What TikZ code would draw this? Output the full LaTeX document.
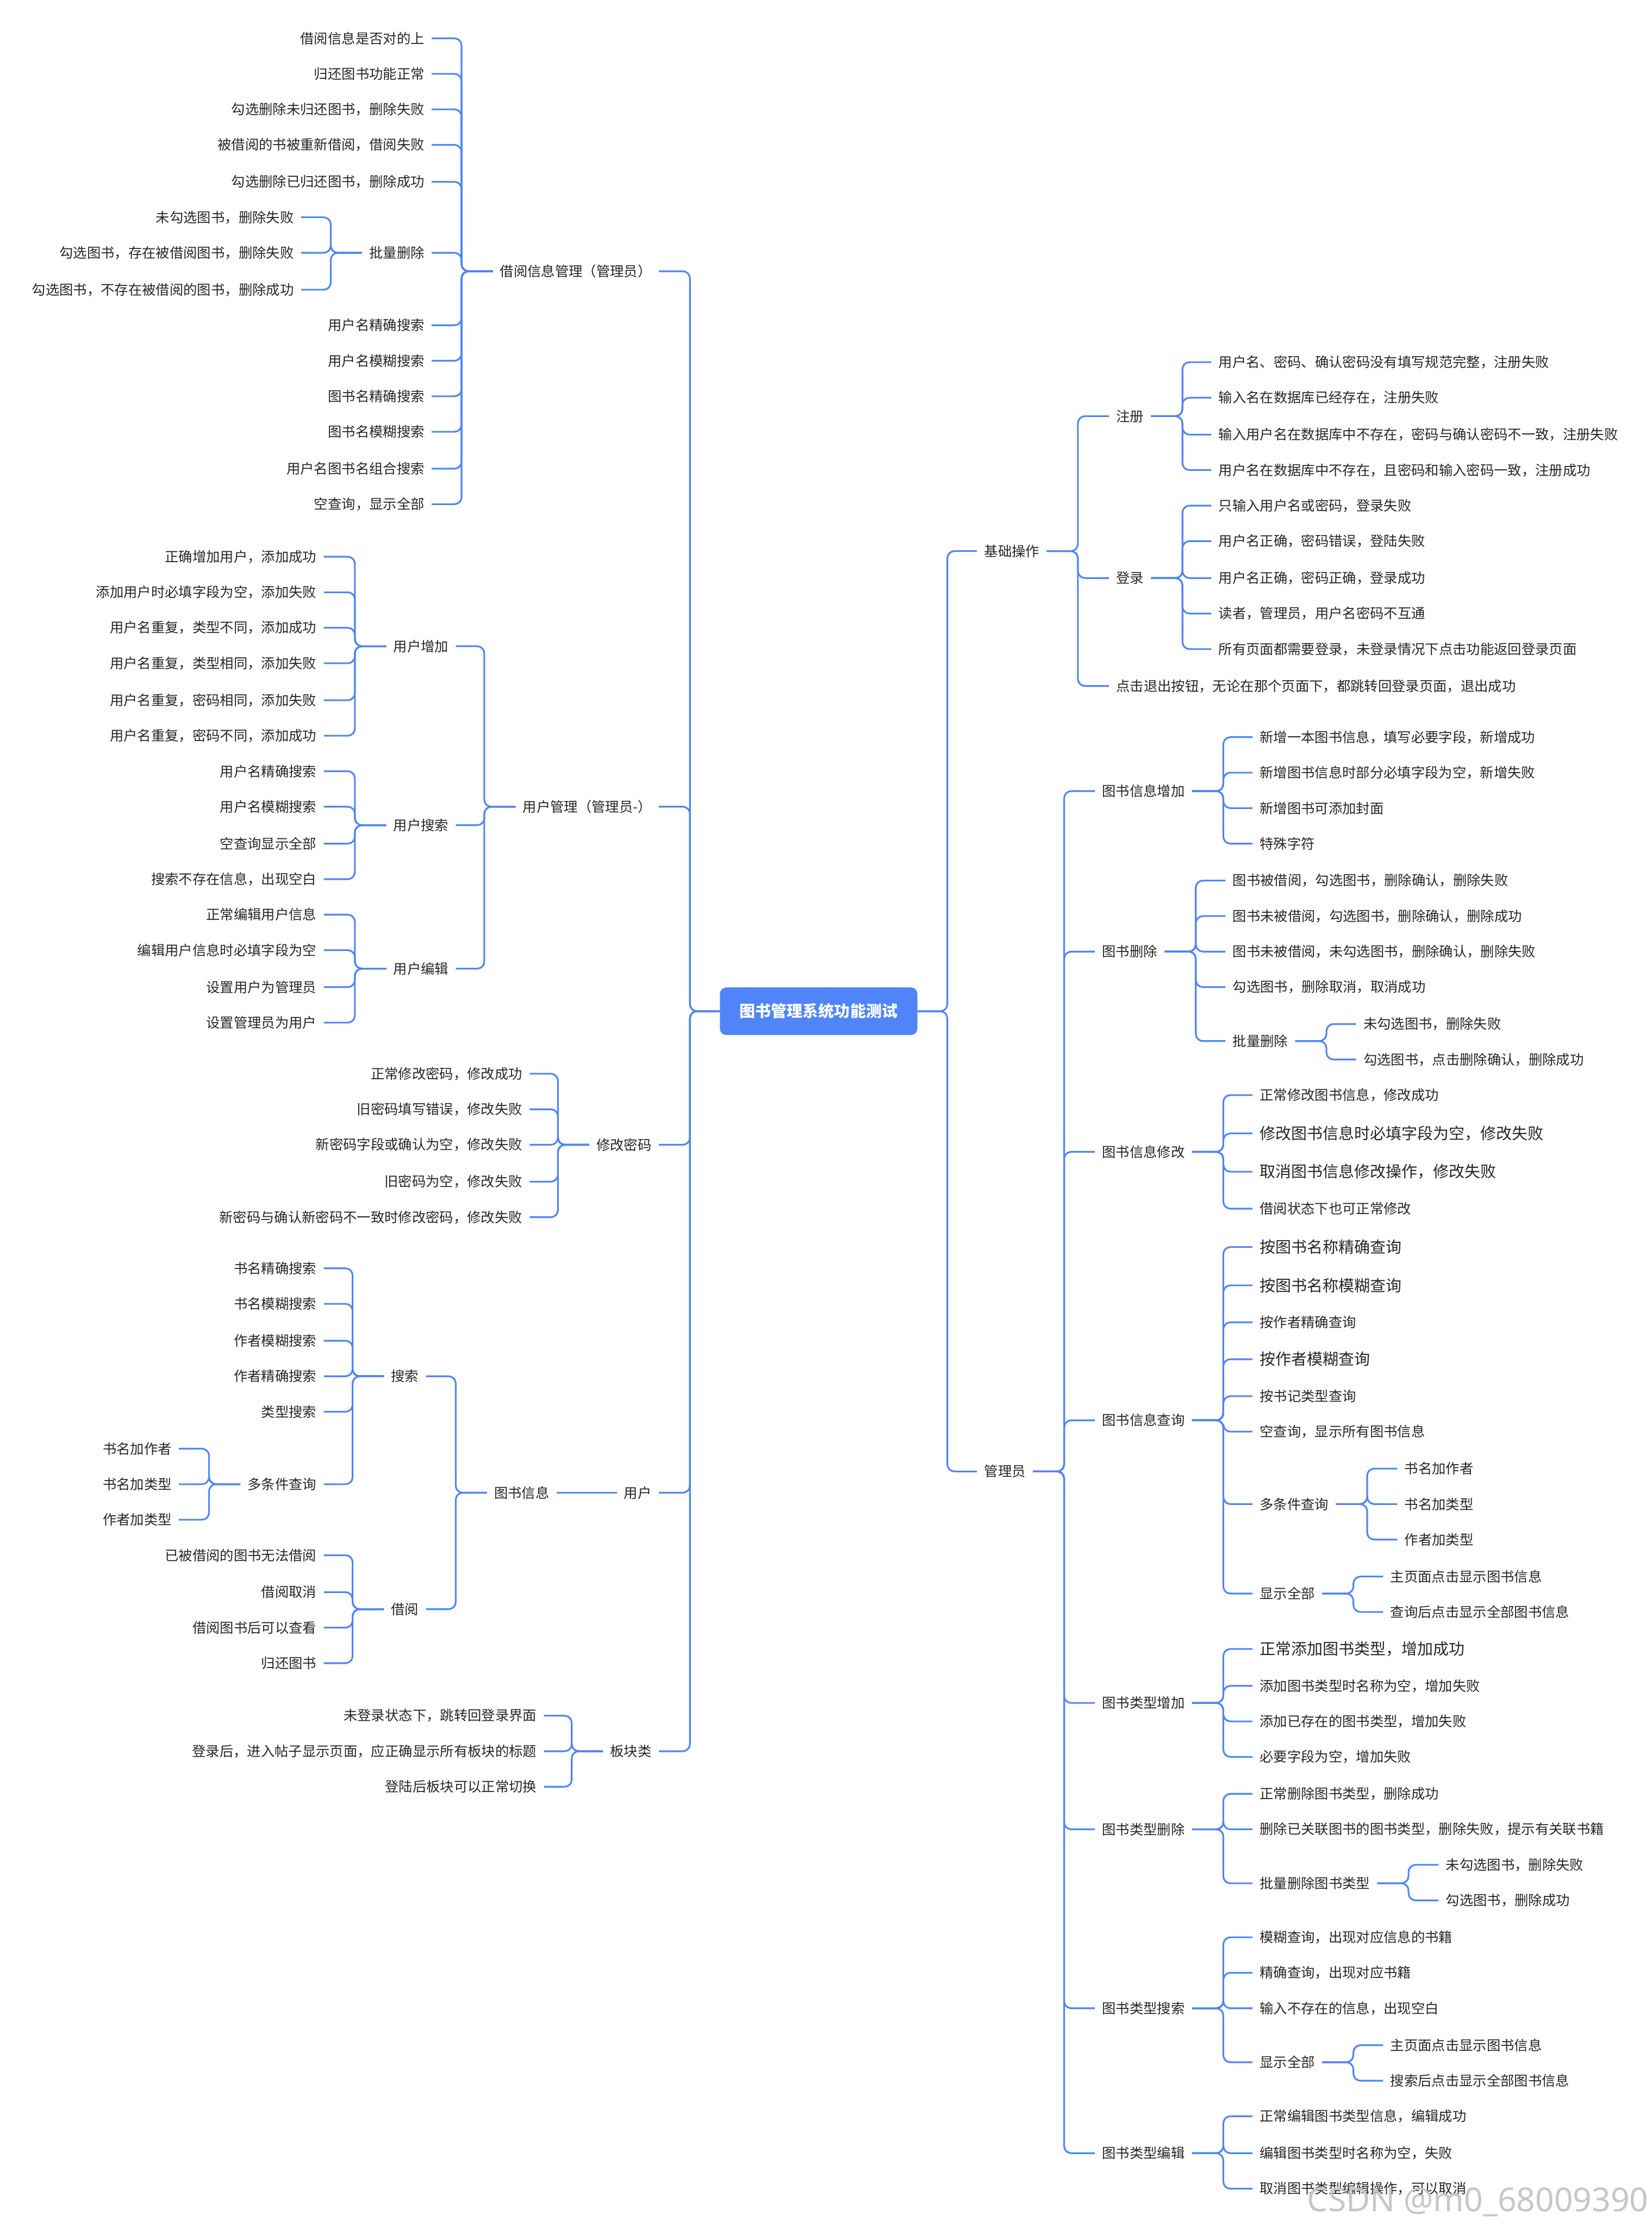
\documentclass[tikz,border=0pt]{standalone}
\usepackage{fontspec}
\setmainfont{Noto Sans CJK SC}
\newfontfamily\markfont{Noto Sans}
\usepackage{tikz}
\definecolor{MapBlue}{RGB}{80,133,250}
\definecolor{TopicText}{RGB}{38,38,38}
\newcommand{\bigtxt}{\fontsize{15.8pt}{18pt}\selectfont}
\tikzset{
  topic/.style={
    text=TopicText,
    inner xsep=2.5mm,
    inner ysep=1mm,
    font=\fontsize{13.8pt}{16pt}\selectfont
  },
  rtopic/.style={topic,anchor=west},
  ltopic/.style={topic,anchor=east},
  rootbox/.style={
    fill=MapBlue,
    text=white,
    rounded corners=2.2mm,
    minimum width=69.5mm,
    minimum height=16.75mm,
    font=\fontsize{15.8pt}{18pt}\selectfont\bfseries
  },
  link/.style={draw=MapBlue,line width=1.7pt,rounded corners=2.5mm},
  watermark/.style={text=black!22,inner sep=0pt,font=\markfont\fontsize{33pt}{36pt}\selectfont}
}

\begin{document}
\begin{tikzpicture}[x=0.5mm,y=-0.5mm]
  \useasboundingbox (0,0) rectangle (1163,1568);

  \node[rootbox] (root) at (576.5,712) {图书管理系统功能测试};

  % right side
  \node[rtopic] (jc) at (688,388) {基础操作};
  \node[rtopic] (gly) at (688,1036) {管理员};
  \foreach \nm in {jc,gly} \draw[link] (root.east) -- ++(21,0) |- (\nm.west);

  \node[rtopic] (zc) at (781,293) {注册};
  \node[rtopic] (dl) at (781,407) {登录};
  \node[rtopic] (tc) at (781,483) {点击退出按钮，无论在那个页面下，都跳转回登录页面，退出成功};
  \foreach \nm in {zc,dl,tc} \draw[link] (jc.east) -- ++(22,0) |- (\nm.west);
  \foreach \yy/\txt [count=\idx] in {255/用户名、密码、确认密码没有填写规范完整，注册失败, 280/输入名在数据库已经存在，注册失败, 306/输入用户名在数据库中不存在，密码与确认密码不一致，注册失败, 331/用户名在数据库中不存在，且密码和输入密码一致，注册成功}{
    \node[rtopic] (zc\idx) at (853,\yy) {\txt};
    \draw[link] (zc.east) -- ++(22,0) |- (zc\idx.west);
  }
  \foreach \yy/\txt [count=\idx] in {356/只输入用户名或密码，登录失败, 381/用户名正确，密码错误，登陆失败, 407/用户名正确，密码正确，登录成功, 432/读者，管理员，用户名密码不互通, 457/所有页面都需要登录，未登录情况下点击功能返回登录页面}{
    \node[rtopic] (dl\idx) at (853,\yy) {\txt};
    \draw[link] (dl.east) -- ++(22,0) |- (dl\idx.west);
  }

  \node[rtopic] (tszj) at (771,557) {图书信息增加};
  \node[rtopic] (tssc) at (771,670) {图书删除};
  \node[rtopic] (tsxg) at (771,811) {图书信息修改};
  \node[rtopic] (tscx) at (771,1000) {图书信息查询};
  \node[rtopic] (lxzj) at (771,1199) {图书类型增加};
  \node[rtopic] (lxsc) at (771,1288) {图书类型删除};
  \node[rtopic] (lxss) at (771,1414) {图书类型搜索};
  \node[rtopic] (lxbj) at (771,1516) {图书类型编辑};
  \foreach \nm in {tszj,tssc,tsxg,tscx,lxzj,lxsc,lxss,lxbj} \draw[link] (gly.east) -- ++(22,0) |- (\nm.west);

  \foreach \yy/\txt [count=\idx] in {519/新增一本图书信息，填写必要字段，新增成功, 544/新增图书信息时部分必填字段为空，新增失败, 569/新增图书可添加封面, 594/特殊字符}{
    \node[rtopic] (tszj\idx) at (882,\yy) {\txt};
    \draw[link] (tszj.east) -- ++(22,0) |- (tszj\idx.west);
  }

  \foreach \yy/\txt [count=\idx] in {620/图书被借阅，勾选图书，删除确认，删除失败, 645/图书未被借阅，勾选图书，删除确认，删除成功, 670/图书未被借阅，未勾选图书，删除确认，删除失败, 695/勾选图书，删除取消，取消成功}{
    \node[rtopic] (tssc\idx) at (863,\yy) {\txt};
    \draw[link] (tssc.east) -- ++(22,0) |- (tssc\idx.west);
  }
  \node[rtopic] (scpl) at (863,733) {批量删除};
  \draw[link] (tssc.east) -- ++(22,0) |- (scpl.west);
  \foreach \yy/\txt [count=\idx] in {721/未勾选图书，删除失败, 746/勾选图书，点击删除确认，删除成功}{
    \node[rtopic] (scpl\idx) at (955,\yy) {\txt};
    \draw[link] (scpl.east) -- ++(22,0) |- (scpl\idx.west);
  }

  \foreach \yy/\txt [count=\idx] in {771/正常修改图书信息，修改成功, 798/{\bigtxt 修改图书信息时必填字段为空，修改失败}, 825/{\bigtxt 取消图书信息修改操作，修改失败}, 851/借阅状态下也可正常修改}{
    \node[rtopic] (tsxg\idx) at (882,\yy) {\txt};
    \draw[link] (tsxg.east) -- ++(22,0) |- (tsxg\idx.west);
  }

  \foreach \yy/\txt [count=\idx] in {878/{\bigtxt 按图书名称精确查询}, 905/{\bigtxt 按图书名称模糊查询}, 931/按作者精确查询, 957/{\bigtxt 按作者模糊查询}, 983/按书记类型查询, 1008/空查询，显示所有图书信息}{
    \node[rtopic] (tscx\idx) at (882,\yy) {\txt};
    \draw[link] (tscx.east) -- ++(22,0) |- (tscx\idx.west);
  }
  \node[rtopic] (cxdt) at (882,1059) {多条件查询};
  \node[rtopic] (cxqb) at (882,1122) {显示全部};
  \foreach \nm in {cxdt,cxqb} \draw[link] (tscx.east) -- ++(22,0) |- (\nm.west);
  \foreach \yy/\txt [count=\idx] in {1034/书名加作者, 1059/书名加类型, 1084/作者加类型}{
    \node[rtopic] (cxdt\idx) at (984,\yy) {\txt};
    \draw[link] (cxdt.east) -- ++(22,0) |- (cxdt\idx.west);
  }
  \foreach \yy/\txt [count=\idx] in {1110/主页面点击显示图书信息, 1135/查询后点击显示全部图书信息}{
    \node[rtopic] (cxqb\idx) at (974,\yy) {\txt};
    \draw[link] (cxqb.east) -- ++(22,0) |- (cxqb\idx.west);
  }

  \foreach \yy/\txt [count=\idx] in {1161/{\bigtxt 正常添加图书类型，增加成功}, 1187/添加图书类型时名称为空，增加失败, 1212/添加已存在的图书类型，增加失败, 1237/必要字段为空，增加失败}{
    \node[rtopic] (lxzj\idx) at (882,\yy) {\txt};
    \draw[link] (lxzj.east) -- ++(22,0) |- (lxzj\idx.west);
  }

  \foreach \yy/\txt [count=\idx] in {1263/正常删除图书类型，删除成功, 1288/删除已关联图书的图书类型，删除失败，提示有关联书籍}{
    \node[rtopic] (lxsc\idx) at (882,\yy) {\txt};
    \draw[link] (lxsc.east) -- ++(22,0) |- (lxsc\idx.west);
  }
  \node[rtopic] (lxpl) at (882,1326) {批量删除图书类型};
  \draw[link] (lxsc.east) -- ++(22,0) |- (lxpl.west);
  \foreach \yy/\txt [count=\idx] in {1313/未勾选图书，删除失败, 1338/勾选图书，删除成功}{
    \node[rtopic] (lxpl\idx) at (1013,\yy) {\txt};
    \draw[link] (lxpl.east) -- ++(22,0) |- (lxpl\idx.west);
  }

  \foreach \yy/\txt [count=\idx] in {1364/模糊查询，出现对应信息的书籍, 1389/精确查询，出现对应书籍, 1414/输入不存在的信息，出现空白}{
    \node[rtopic] (lxss\idx) at (882,\yy) {\txt};
    \draw[link] (lxss.east) -- ++(22,0) |- (lxss\idx.west);
  }
  \node[rtopic] (ssqb) at (882,1452) {显示全部};
  \draw[link] (lxss.east) -- ++(22,0) |- (ssqb.west);
  \foreach \yy/\txt [count=\idx] in {1440/主页面点击显示图书信息, 1465/搜索后点击显示全部图书信息}{
    \node[rtopic] (ssqb\idx) at (974,\yy) {\txt};
    \draw[link] (ssqb.east) -- ++(22,0) |- (ssqb\idx.west);
  }

  \foreach \yy/\txt [count=\idx] in {1490/正常编辑图书类型信息，编辑成功, 1516/编辑图书类型时名称为空，失败, 1541/取消图书类型编辑操作，可以取消}{
    \node[rtopic] (lxbj\idx) at (882,\yy) {\txt};
    \draw[link] (lxbj.east) -- ++(22,0) |- (lxbj\idx.west);
  }

  % left side
  \node[ltopic] (jy) at (464,191) {借阅信息管理（管理员）};
  \node[ltopic] (yhgl) at (464,568) {用户管理（管理员-）};
  \node[ltopic] (xgmm) at (464,806) {修改密码};
  \node[ltopic] (yh) at (464,1051) {用户};
  \node[ltopic] (bkl) at (464,1233) {板块类};
  \foreach \nm in {jy,yhgl,xgmm,yh,bkl} \draw[link] (root.west) -- ++(-21,0) |- (\nm.east);

  \foreach \yy/\txt [count=\idx] in {27/借阅信息是否对的上, 52/归还图书功能正常, 77/勾选删除未归还图书，删除失败, 102/被借阅的书被重新借阅，借阅失败, 128/勾选删除已归还图书，删除成功, 229/用户名精确搜索, 254/用户名模糊搜索, 279/图书名精确搜索, 304/图书名模糊搜索, 330/用户名图书名组合搜索, 355/空查询，显示全部}{
    \node[ltopic] (jy\idx) at (304,\yy) {\txt};
    \draw[link] (jy.west) -- ++(-22,0) |- (jy\idx.east);
  }
  \node[ltopic] (jypl) at (304,178) {批量删除};
  \draw[link] (jy.west) -- ++(-22,0) |- (jypl.east);
  \foreach \yy/\txt [count=\idx] in {153/未勾选图书，删除失败, 178/勾选图书，存在被借阅图书，删除失败, 204/勾选图书，不存在被借阅的图书，删除成功}{
    \node[ltopic] (jypl\idx) at (212,\yy) {\txt};
    \draw[link] (jypl.west) -- ++(-22,0) |- (jypl\idx.east);
  }

  \node[ltopic] (yhzj) at (321,455) {用户增加};
  \node[ltopic] (yhss) at (321,581) {用户搜索};
  \node[ltopic] (yhbj) at (321,682) {用户编辑};
  \foreach \nm in {yhzj,yhss,yhbj} \draw[link] (yhgl.west) -- ++(-22,0) |- (\nm.east);
  \foreach \yy/\txt [count=\idx] in {392/正确增加用户，添加成功, 417/添加用户时必填字段为空，添加失败, 442/用户名重复，类型不同，添加成功, 467/用户名重复，类型相同，添加失败, 493/用户名重复，密码相同，添加失败, 518/用户名重复，密码不同，添加成功}{
    \node[ltopic] (yhzj\idx) at (228,\yy) {\txt};
    \draw[link] (yhzj.west) -- ++(-22,0) |- (yhzj\idx.east);
  }
  \foreach \yy/\txt [count=\idx] in {543/用户名精确搜索, 568/用户名模糊搜索, 594/空查询显示全部, 619/搜索不存在信息，出现空白}{
    \node[ltopic] (yhss\idx) at (228,\yy) {\txt};
    \draw[link] (yhss.west) -- ++(-22,0) |- (yhss\idx.east);
  }
  \foreach \yy/\txt [count=\idx] in {644/正常编辑用户信息, 669/编辑用户信息时必填字段为空, 695/设置用户为管理员, 720/设置管理员为用户}{
    \node[ltopic] (yhbj\idx) at (228,\yy) {\txt};
    \draw[link] (yhbj.west) -- ++(-22,0) |- (yhbj\idx.east);
  }

  \foreach \yy/\txt [count=\idx] in {756/正常修改密码，修改成功, 781/旧密码填写错误，修改失败, 806/新密码字段或确认为空，修改失败, 832/旧密码为空，修改失败, 857/新密码与确认新密码不一致时修改密码，修改失败}{
    \node[ltopic] (xgmm\idx) at (373,\yy) {\txt};
    \draw[link] (xgmm.west) -- ++(-22,0) |- (xgmm\idx.east);
  }

  \node[ltopic] (tsxx) at (392,1051) {图书信息};
  \draw[link] (yh.west) -- (tsxx.east);
  \node[ltopic] (ss) at (300,969) {搜索};
  \node[ltopic] (jieyue) at (300,1133) {借阅};
  \foreach \nm in {ss,jieyue} \draw[link] (tsxx.west) -- ++(-22,0) |- (\nm.east);
  \foreach \yy/\txt [count=\idx] in {893/书名精确搜索, 918/书名模糊搜索, 944/作者模糊搜索, 969/作者精确搜索, 994/类型搜索}{
    \node[ltopic] (ss\idx) at (228,\yy) {\txt};
    \draw[link] (ss.west) -- ++(-22,0) |- (ss\idx.east);
  }
  \node[ltopic] (ssdt) at (228,1045) {多条件查询};
  \draw[link] (ss.west) -- ++(-22,0) |- (ssdt.east);
  \foreach \yy/\txt [count=\idx] in {1020/书名加作者, 1045/书名加类型, 1070/作者加类型}{
    \node[ltopic] (ssdt\idx) at (126,\yy) {\txt};
    \draw[link] (ssdt.west) -- ++(-22,0) |- (ssdt\idx.east);
  }
  \foreach \yy/\txt [count=\idx] in {1095/已被借阅的图书无法借阅, 1121/借阅取消, 1146/借阅图书后可以查看, 1171/归还图书}{
    \node[ltopic] (jieyue\idx) at (228,\yy) {\txt};
    \draw[link] (jieyue.west) -- ++(-22,0) |- (jieyue\idx.east);
  }

  \foreach \yy/\txt [count=\idx] in {1208/未登录状态下，跳转回登录界面, 1233/登录后，进入帖子显示页面，应正确显示所有板块的标题, 1258/登陆后板块可以正常切换}{
    \node[ltopic] (bkl\idx) at (383,\yy) {\txt};
    \draw[link] (bkl.west) -- ++(-22,0) |- (bkl\idx.east);
  }

  \node[watermark,anchor=base east] (mark) at (1161,1557) {CSDN @m0\_68009390};
\end{tikzpicture}
\end{document}
